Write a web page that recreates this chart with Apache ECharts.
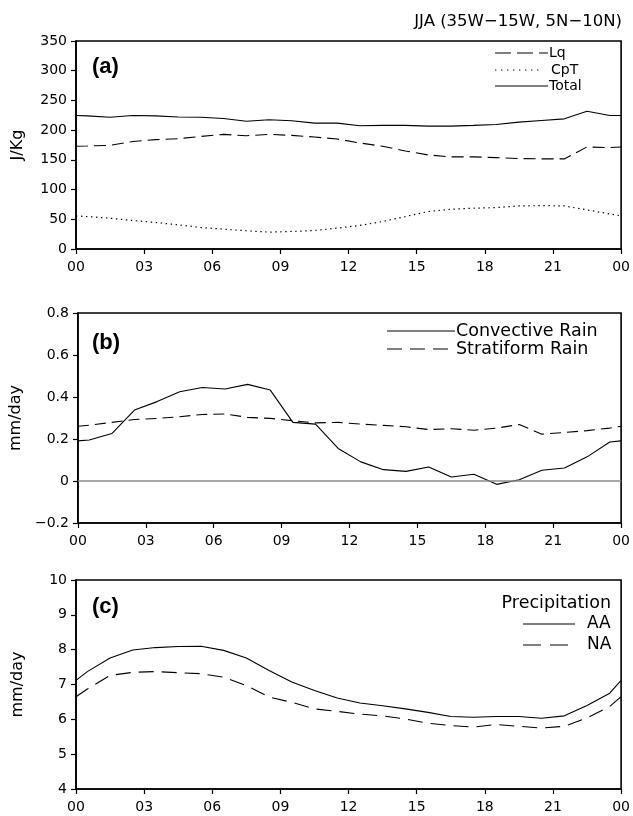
<!DOCTYPE html>
<html>
<head>
<meta charset="utf-8">
<script src="https://cdn.jsdelivr.net/npm/echarts@6/dist/echarts.min.js"></script>
<style>
html,body{margin:0;padding:0;background:#fff;}
#chart{width:633px;height:816px;}
</style>
</head>
<body>
<div id="chart"></div>
<script>
// ---- data ----
const hours = [0, 0.5, 1.5, 2.5, 3.5, 4.5, 5.5, 6.5, 7.5, 8.5, 9.5, 10.5, 11.5, 12.5, 13.5, 14.5, 15.5, 16.5, 17.5, 18.5, 19.5, 20.5, 21.5, 22.5, 23.5, 24];
const xTicks = ['00', '03', '06', '09', '12', '15', '18', '21', '00'];

// (a) J/Kg
const lq    = [172.8, 173.3, 174.5, 181, 184, 185.6, 189.5, 192.9, 190.6, 192.9, 191.2, 188.4, 185, 178.4, 172.8, 165, 158.3, 155, 155, 153.8, 152.2, 151.6, 151.6, 171.7, 170.6, 171.7];
const cpt   = [55.7, 54.5, 51.8, 48, 44.6, 40.7, 36.2, 33.4, 30.7, 28.4, 29.5, 31.2, 35.1, 39.6, 46.3, 54.6, 63, 66.9, 68.6, 69.7, 72.5, 73, 72.5, 65.8, 59, 55.7];
const total = [224.6, 224, 221.8, 224.6, 224, 222, 221.8, 219.6, 215, 217.4, 215.7, 211.8, 211.8, 207.4, 208, 208, 206.8, 206.8, 208, 209.6, 213.5, 216.3, 219, 231.9, 224.6, 224.6];

// (b) mm/day
const convective = [0.191, 0.195, 0.226, 0.338, 0.378, 0.425, 0.445, 0.438, 0.46, 0.433, 0.279, 0.271, 0.155, 0.091, 0.054, 0.046, 0.067, 0.019, 0.032, -0.016, 0.006, 0.051, 0.062, 0.115, 0.186, 0.191];
const stratiform = [0.261, 0.266, 0.279, 0.293, 0.298, 0.306, 0.317, 0.319, 0.303, 0.298, 0.287, 0.277, 0.279, 0.271, 0.265, 0.258, 0.245, 0.249, 0.242, 0.252, 0.269, 0.223, 0.231, 0.24, 0.252, 0.261];

// (c) mm/day
const precipAA = [7.12, 7.37, 7.76, 7.99, 8.06, 8.09, 8.10, 7.98, 7.76, 7.40, 7.07, 6.83, 6.61, 6.47, 6.39, 6.30, 6.20, 6.08, 6.06, 6.08, 6.08, 6.03, 6.10, 6.40, 6.75, 7.12];
const precipNA = [6.65, 6.87, 7.26, 7.35, 7.37, 7.34, 7.31, 7.21, 6.97, 6.64, 6.49, 6.30, 6.23, 6.15, 6.10, 6.01, 5.89, 5.82, 5.78, 5.85, 5.80, 5.75, 5.80, 6.04, 6.37, 6.65];

const titleText = 'JJA (35W\u221215W, 5N\u221210N)';
const panelLabels = ['(a)', '(b)', '(c)'];
const yNames = ['J/Kg', 'mm/day', 'mm/day'];

// ---- chart ----
const FONT = "'DejaVu Sans', 'Liberation Sans', sans-serif";
const pair = vals => hours.map((h, i) => [h, vals[i]]);

const grids = [
  {left: 76, top: 41, width: 546, height: 208},
  {left: 76, top: 313, width: 546, height: 210},
  {left: 76, top: 580, width: 546, height: 209}
].map(g => Object.assign({show: true, borderColor: '#000', borderWidth: 1.6, backgroundColor: 'transparent'}, g));

const yRanges = [
  {min: 0, max: 350, interval: 50},
  {min: -0.2, max: 0.8, interval: 0.2},
  {min: 4, max: 10, interval: 1}
];

const xAxes = grids.map((g, i) => ({
  gridIndex: i, type: 'value', min: 0, max: 24, interval: 3,
  axisLine: {lineStyle: {color: '#000', width: 1.6}, onZero: false},
  axisTick: {show: true, length: 5, lineStyle: {color: '#000', width: 1.2}},
  splitLine: {show: false},
  axisLabel: {
    color: '#000', fontSize: 14, fontFamily: FONT, margin: 11,
    formatter: v => xTicks[Math.round(v / 3)]
  }
}));

const yFormat = [
  v => String(Math.round(v)),
  v => { const r = Math.round(v * 10) / 10; return r === 0 ? '0' : r.toFixed(1).replace('-', '\u2212'); },
  v => String(Math.round(v))
];

const yAxes = grids.map((g, i) => ({
  gridIndex: i, type: 'value', min: yRanges[i].min, max: yRanges[i].max, interval: yRanges[i].interval,
  name: yNames[i], nameLocation: 'middle', nameGap: 50, nameRotate: 90,
  nameTextStyle: {color: '#000', fontSize: 16, fontFamily: FONT},
  axisLine: {show: true, lineStyle: {color: '#000', width: 1.6}, onZero: false},
  axisTick: {show: true, length: 5, lineStyle: {color: '#000', width: 1.2}},
  splitLine: {show: false},
  axisLabel: {color: '#000', fontSize: 14, fontFamily: FONT, margin: 9, formatter: yFormat[i]}
}));

function line(name, idx, vals, type, width) {
  return {
    name: name, type: 'line', xAxisIndex: idx, yAxisIndex: idx,
    data: pair(vals), symbol: 'none', silent: true,
    lineStyle: {color: '#000', width: width || 1.1, type: type}
  };
}

const series = [
  line('Lq', 0, lq, [12, 6]),
  line('CpT', 0, cpt, [1.4, 3.6], 1.2),
  line('Total', 0, total, 'solid'),
  Object.assign(line('Convective Rain', 1, convective, 'solid'), {
    markLine: {
      silent: true, symbol: 'none', label: {show: false},
      lineStyle: {color: '#8a8a8a', width: 1.6, type: 'solid'},
      data: [{yAxis: 0}]
    }
  }),
  line('Stratiform Rain', 1, stratiform, [11, 6]),
  line('AA', 2, precipAA, 'solid'),
  line('NA', 2, precipNA, [15, 8])
];

// legend samples and annotations
const txt = (x, y, text, size, opts) => Object.assign({
  type: 'text', x: x, y: y, silent: true,
  style: Object.assign({text: text, fill: '#000', font: size + 'px ' + FONT, textVerticalAlign: 'middle'}, opts || {})
});
const seg = (x1, x2, y, dash, w) => ({
  type: 'line', silent: true,
  shape: {x1: x1, y1: y, x2: x2, y2: y},
  style: {stroke: '#000', lineWidth: w || 1.1, lineDash: dash || null}
});
const BOLD = 'bold 22px Arial, "Liberation Sans", sans-serif';

const graphic = [
  txt(622, 22, titleText, 16.5, {textAlign: 'right'}),
  // panel labels
  {type: 'text', x: 92, y: 67, silent: true, style: {text: panelLabels[0], fill: '#000', font: BOLD, textVerticalAlign: 'middle'}},
  {type: 'text', x: 92, y: 343, silent: true, style: {text: panelLabels[1], fill: '#000', font: BOLD, textVerticalAlign: 'middle'}},
  {type: 'text', x: 92, y: 607, silent: true, style: {text: panelLabels[2], fill: '#000', font: BOLD, textVerticalAlign: 'middle'}},
  // legend a
  seg(495, 548, 53, [16, 6]), txt(549, 53, 'Lq', 14),
  seg(495, 543, 70, [1.4, 4.6], 1.2), txt(551, 70, 'CpT', 14),
  seg(495, 548, 86), txt(549, 86, 'Total', 14),
  // legend b
  seg(387, 455, 331), txt(456, 331, 'Convective Rain', 17.5),
  seg(387, 455, 349, [15, 8]), txt(456, 349, 'Stratiform Rain', 17.5),
  // legend c
  txt(611, 603, 'Precipitation', 17.5, {textAlign: 'right'}),
  seg(523, 575, 624), txt(587, 624, 'AA', 17),
  seg(523, 575, 645, [18, 9]), txt(587, 645, 'NA', 17)
];

const chart = echarts.init(document.getElementById('chart'), null, {renderer: 'canvas'});
chart.setOption({
  backgroundColor: '#fff',
  animation: false,
  grid: grids,
  xAxis: xAxes,
  yAxis: yAxes,
  series: series,
  graphic: graphic
});
</script>
</body>
</html>
